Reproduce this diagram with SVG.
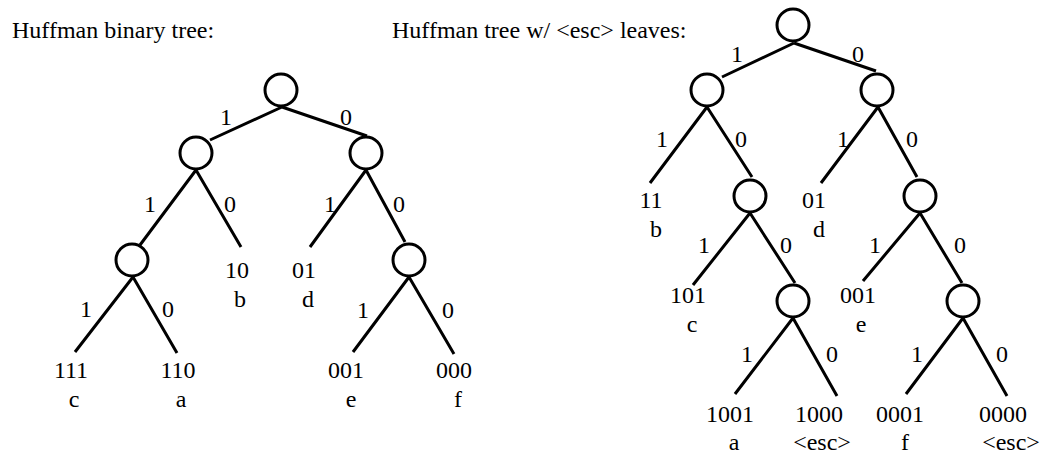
<svg xmlns="http://www.w3.org/2000/svg" width="1042" height="453" viewBox="0 0 1042 453">
<style>
text{font-family:"Liberation Serif","Times New Roman",serif;font-size:24px;fill:#000}
.m{text-anchor:middle}
.e{stroke:#000;stroke-width:3;fill:none}
.n{fill:#fff;stroke:#000;stroke-width:3}
</style>
<rect width="1042" height="453" fill="#fff"/>
<text id="title1" x="12" y="38">Huffman binary tree:</text>
<text id="title2" x="392" y="38">Huffman tree w/ &lt;esc&gt; leaves:</text>

<g id="connectors">
  <g class="e">
    <path d="M282,107L210,140M282,107L367,136"/>
    <path d="M196,170L140,245M196,170L241,247"/>
    <path d="M366,170L310,247M366,170L405,242"/>
    <path d="M133,277L75,352M133,277L177,353"/>
    <path d="M409,277L353,352M409,277L454,354"/>
    <path d="M794,43L722,77M794,43L876,71"/>
    <path d="M707,107L650,183M707,107L752,177"/>
    <path d="M878,107L821,183M878,107L917,177"/>
    <path d="M750,213L693,285M750,213L795,283"/>
    <path d="M920,213L863,281M920,213L962,283"/>
    <path d="M793,318L735,394M793,318L837,396"/>
    <path d="M963,318L906,394M963,318L1007,396"/>
  </g>
  <g class="m">
    <text x="226" y="125">1</text><text x="346" y="125">0</text>
    <text x="150" y="212">1</text><text x="230" y="212">0</text>
    <text x="330" y="212">1</text><text x="399" y="212">0</text>
    <text x="86" y="317">1</text><text x="168" y="317">0</text>
    <text x="363" y="318">1</text><text x="448" y="318">0</text>
    <text x="737" y="62">1</text><text x="858" y="62">0</text>
    <text x="662" y="147">1</text><text x="741" y="147">0</text>
    <text x="843" y="147">1</text><text x="912" y="147">0</text>
    <text x="704" y="253">1</text><text x="786" y="253">0</text>
    <text x="875" y="253">1</text><text x="960" y="253">0</text>
    <text x="747" y="362">1</text><text x="832" y="362">0</text>
    <text x="917" y="362">1</text><text x="1002" y="362">0</text>
  </g>
</g>

<g id="L-root"><circle class="n" cx="281" cy="90" r="16"/></g>
<g id="L-1"><circle class="n" cx="196" cy="153" r="16"/></g>
<g id="L-0"><circle class="n" cx="366" cy="153" r="16"/></g>
<g id="L-11"><circle class="n" cx="132" cy="260" r="16"/></g>
<g id="L-00"><circle class="n" cx="409" cy="260" r="16"/></g>
<g id="L-b" class="m"><text x="237" y="278">10</text><text x="240" y="307">b</text></g>
<g id="L-d" class="m"><text x="304" y="278">01</text><text x="308" y="307">d</text></g>
<g id="L-c" class="m"><text x="71" y="378">111</text><text x="74" y="407">c</text></g>
<g id="L-a" class="m"><text x="178" y="378">110</text><text x="181" y="407">a</text></g>
<g id="L-e" class="m"><text x="346" y="378">001</text><text x="351" y="407">e</text></g>
<g id="L-f" class="m"><text x="454" y="378">000</text><text x="458" y="407">f</text></g>

<g id="R-root"><circle class="n" cx="793" cy="25" r="16"/></g>
<g id="R-1"><circle class="n" cx="707" cy="90" r="16"/></g>
<g id="R-0"><circle class="n" cx="877" cy="90" r="16"/></g>
<g id="R-10"><circle class="n" cx="750" cy="196" r="16"/></g>
<g id="R-00"><circle class="n" cx="920" cy="196" r="16"/></g>
<g id="R-100"><circle class="n" cx="793" cy="301" r="16"/></g>
<g id="R-000"><circle class="n" cx="963" cy="301" r="16"/></g>
<g id="R-b" class="m"><text x="651" y="208">11</text><text x="656" y="237">b</text></g>
<g id="R-d" class="m"><text x="814" y="208">01</text><text x="819" y="237">d</text></g>
<g id="R-c" class="m"><text x="688" y="303">101</text><text x="692" y="332">c</text></g>
<g id="R-e" class="m"><text x="858" y="303">001</text><text x="861" y="332">e</text></g>
<g id="R-a" class="m"><text x="730" y="422">1001</text><text x="734" y="450">a</text></g>
<g id="R-esc1" class="m"><text x="819" y="422">1000</text><text x="822" y="450">&lt;esc&gt;</text></g>
<g id="R-f" class="m"><text x="900" y="422">0001</text><text x="905" y="450">f</text></g>
<g id="R-esc2" class="m"><text x="1003" y="422">0000</text><text x="1011" y="450">&lt;esc&gt;</text></g>
</svg>
